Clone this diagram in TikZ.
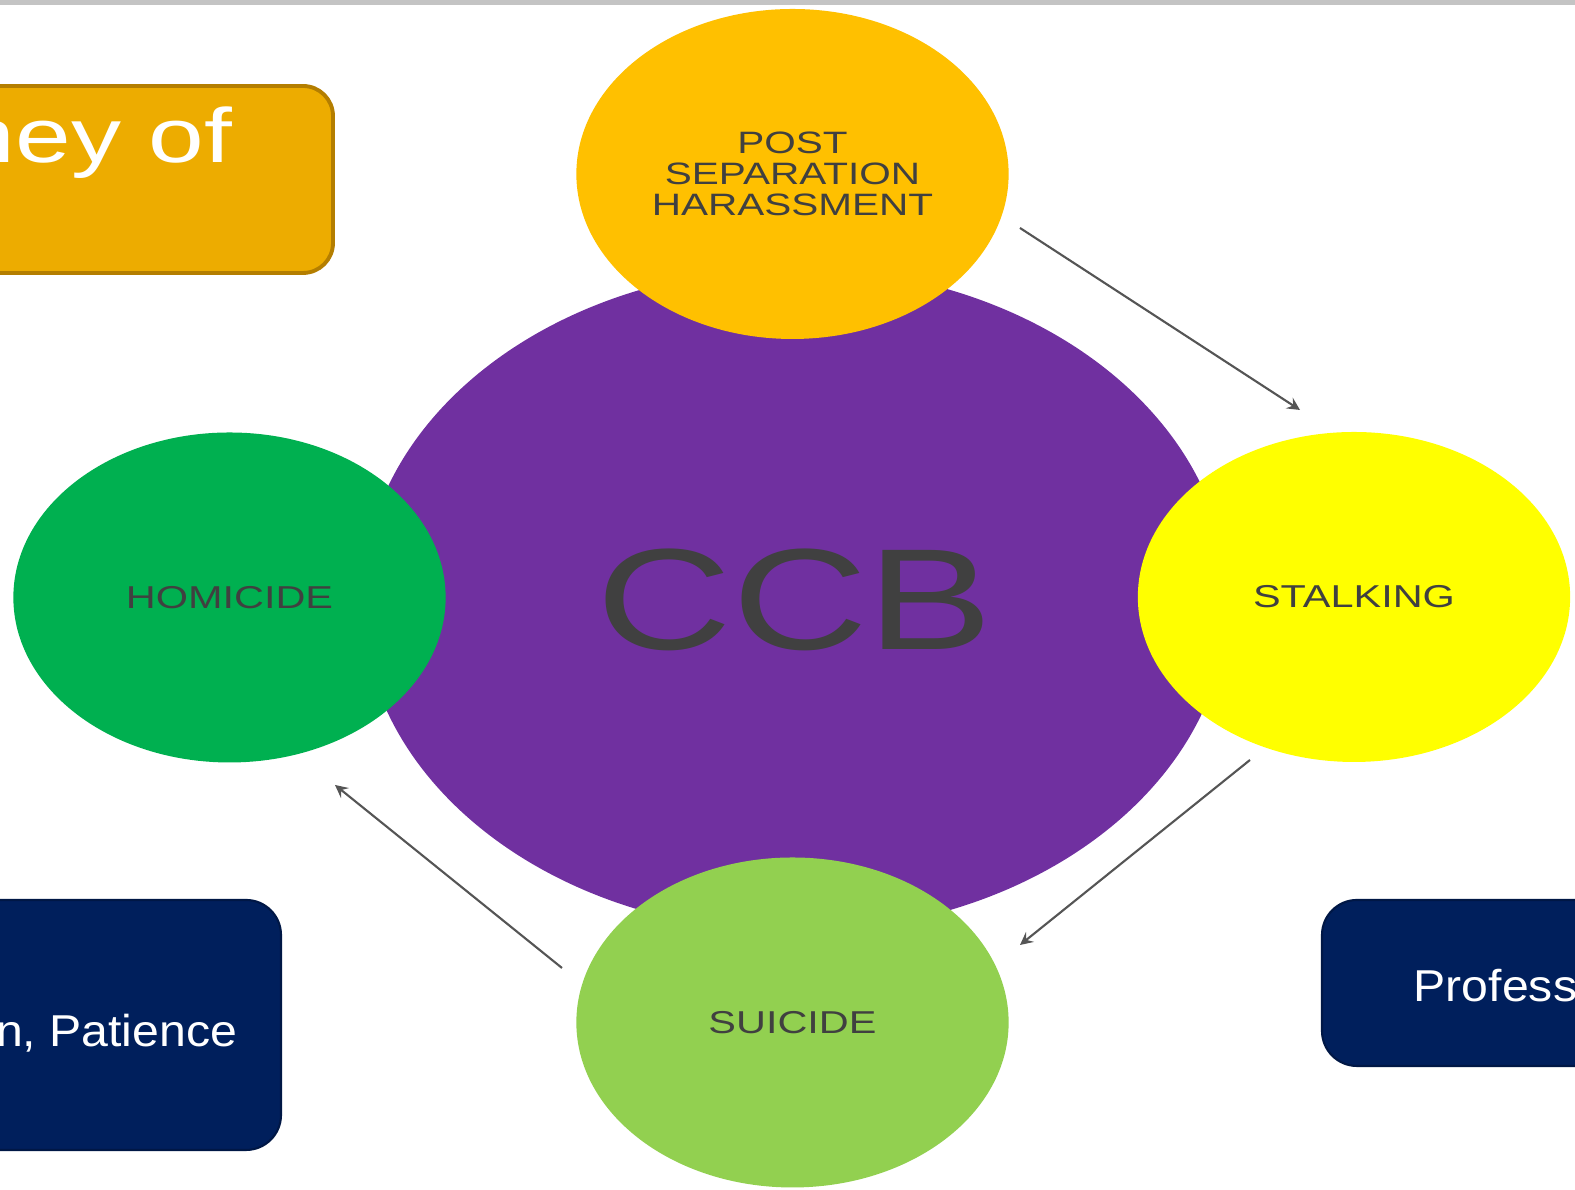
\documentclass[tikz,border=0pt]{standalone}
\usepackage{fontspec}
\setmainfont{Liberation Sans}
\definecolor{ccbpurple}{HTML}{7030A0}
\definecolor{postgold}{HTML}{FFC000}
\definecolor{stalkyellow}{HTML}{FFFF00}
\definecolor{homgreen}{HTML}{00B050}
\definecolor{suigreen}{HTML}{92D050}
\definecolor{cardnavy}{HTML}{001F5C}
\definecolor{boxgold}{HTML}{EDAC00}
\definecolor{boxedge}{HTML}{B47E00}
\definecolor{labelgray}{HTML}{404040}
\definecolor{linkgray}{HTML}{555555}
\definecolor{bargray}{HTML}{C4C4C4}
\tikzset{
  bubble/.style={circle, inner sep=0pt, minimum size=3.3cm, xscale=1.31, text=labelgray, font=\fontsize{9}{9}\selectfont},
  card/.style={rounded corners=0.35cm, fill=cardnavy, draw=cardnavy!75!black, line width=0.6pt},
  cardtext/.style={inner sep=0pt, xscale=1.08, text=white, font=\fontsize{12.7}{13}\selectfont},
  link/.style={draw=linkgray, line width=0.6pt}
}
\begin{document}
\begin{tikzpicture}[line join=round, >=stealth]
    \useasboundingbox (0,0) rectangle (15.75,11.9);
    \clip (0,0) rectangle (15.75,11.9);
    \fill[bargray] (0,11.85) rectangle (15.75,11.9);
    \draw[rounded corners=0.3cm, fill=boxgold, draw=boxedge, line width=1.1pt] (-0.5,9.17) rectangle (3.33,11.04);
    \node[anchor=base west, inner sep=0pt, xscale=1.3, text=white, font=\fontsize{21.9}{22}\selectfont] (journey) at (-0.41,10.27) {ney of};
    \draw[card] (-0.5,0.40) rectangle (2.81,2.90);
    \draw[card] (13.22,1.24) rectangle (16.2,2.90);
    \node[cardtext, anchor=base east] (patience) at (2.38,1.43) {n, Patience};
    \node[cardtext, anchor=base west] (prof) at (14.13,1.88) {Profess};
    \node[circle, inner sep=0pt, fill=ccbpurple, minimum size=6.64cm, xscale=1.304, text=labelgray, font=\fontsize{41}{41}\selectfont] (ccb) at (7.95,5.90) {CCB};
    \node[bubble, fill=postgold, align=center, font=\fontsize{8.8}{8.8}\selectfont] (post) at (7.925,10.16) {POST\\SEPARATION\\HARASSMENT};
    \node[bubble, fill=stalkyellow] (stalk) at (13.54,5.93) {STALKING};
    \node[bubble, fill=homgreen] (homicide) at (2.295,5.925) {HOMICIDE};
    \node[bubble, fill=suigreen] (suicide) at (7.925,1.675) {SUICIDE};
    \coordinate (p1) at (10.20,9.62);
    \coordinate (s1) at (13.00,7.80);
    \coordinate (s2) at (12.50,4.30);
    \coordinate (u2) at (10.20,2.45);
    \coordinate (u3) at (5.62,2.22);
    \coordinate (h3) at (3.35,4.05);
    \draw[link,->] (p1) -- (s1);
    \draw[link,->] (s2) -- (u2);
    \draw[link,->] (u3) -- (h3);
\end{tikzpicture}
\end{document}
